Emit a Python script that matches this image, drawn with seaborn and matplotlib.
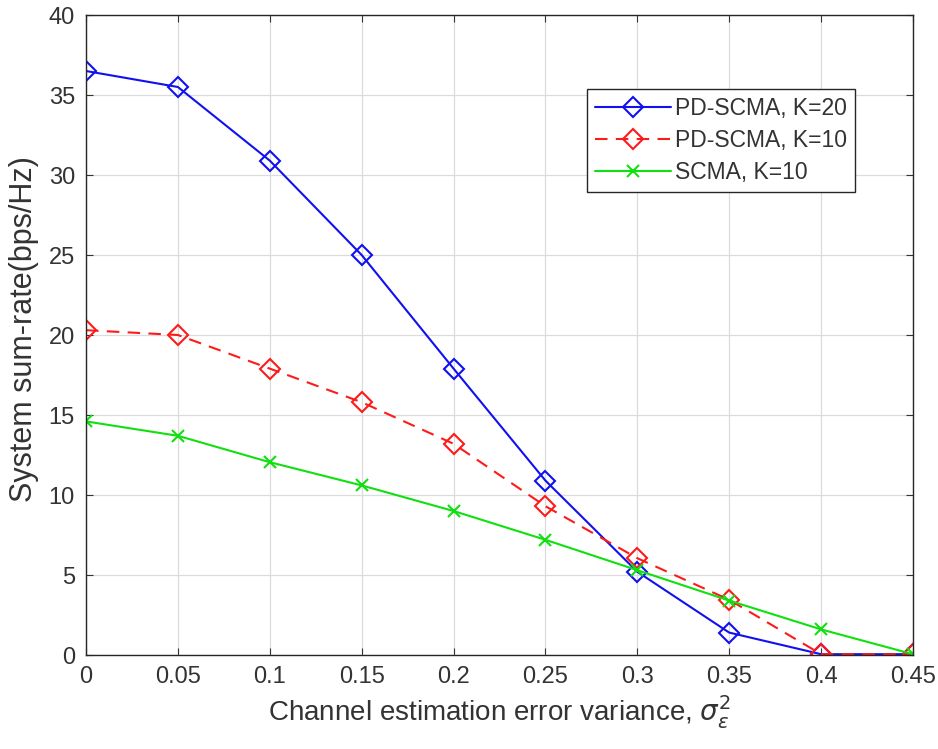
import matplotlib
matplotlib.use("Agg")
import matplotlib.pyplot as plt
import seaborn as sns
import pandas as pd

x_vals = [0, 0.05, 0.1, 0.15, 0.2, 0.25, 0.3, 0.35, 0.4, 0.45]
pd_k20 = [36.5, 35.5, 30.9, 25.0, 17.9, 10.9, 5.2, 1.4, 0.05, 0.05]
pd_k10 = [20.3, 20.0, 17.9, 15.8, 13.2, 9.3, 6.05, 3.45, 0.05, 0.05]
scma_k10 = [14.6, 13.7, 12.05, 10.6, 9.0, 7.2, 5.3, 3.4, 1.6, 0.05]
series_names = ["PD-SCMA, K=20", "PD-SCMA, K=10", "SCMA, K=10"]
x_ticks = [0, 0.05, 0.1, 0.15, 0.2, 0.25, 0.3, 0.35, 0.4, 0.45]
x_tick_labels = ["0", "0.05", "0.1", "0.15", "0.2", "0.25", "0.3", "0.35", "0.4", "0.45"]
y_ticks = [0, 5, 10, 15, 20, 25, 30, 35, 40]

sns.set_style("white")
plt.rcParams["font.family"] = ["Liberation Sans", "DejaVu Sans"]
plt.rcParams["mathtext.fontset"] = "dejavusans"

fig = plt.figure(figsize=(9.38, 7.49), dpi=100)
ax = fig.add_axes([86 / 938, 94 / 749, 827 / 938, 640 / 749])

styles = [
    dict(color="#1010f0", marker="D", linestyle="-"),
    dict(color="#ff1a1a", marker="D", linestyle=(0, (6, 4))),
    dict(color="#10e010", marker="x", linestyle="-"),
]
values = [pd_k20, pd_k10, scma_k10]
for name, vals, st in zip(series_names, values, styles):
    df = pd.DataFrame({"x": x_vals, "y": vals})
    sns.lineplot(data=df, x="x", y="y", ax=ax, label=name,
                 color=st["color"], marker=st["marker"], linestyle=st["linestyle"],
                 markersize=10 if st["marker"] == "D" else 8,
                 markerfacecolor="none", markeredgecolor=st["color"],
                 markeredgewidth=1.5, linewidth=1.5)

ax.set_xlim(0, 0.45)
ax.set_ylim(0, 40)
ax.set_xticks(x_ticks)
ax.set_xticklabels(x_tick_labels)
ax.set_yticks(y_ticks)
ax.grid(True, color="#dcdcdc", linewidth=0.9)
ax.tick_params(direction="in", length=5, labelsize=17, colors="#333333", pad=8,
               top=True, right=True, bottom=True, left=True)
for s in ax.spines.values():
    s.set_color("#262626")
    s.set_linewidth(1.0)
ax.set_xlabel(r"Channel estimation error variance, $\sigma_\epsilon^2$", fontsize=20,
              color="#333333")
ax.set_ylabel("System sum-rate(bps/Hz)", fontsize=22, color="#333333")
ax.xaxis.set_label_coords(0.5, -0.06)
ax.yaxis.set_label_coords(-0.057, 0.51)

leg = ax.legend(loc="upper right", bbox_to_anchor=(0.93, 0.885), fontsize=16.5,
                frameon=True, fancybox=False, edgecolor="#262626", framealpha=1,
                borderpad=0.35, labelspacing=0.4, handlelength=3.3, handletextpad=0.2,
                borderaxespad=0)
leg.get_frame().set_linewidth(1.0)
for t in leg.get_texts():
    t.set_color("#333333")

fig.savefig("out.png", dpi=100)
